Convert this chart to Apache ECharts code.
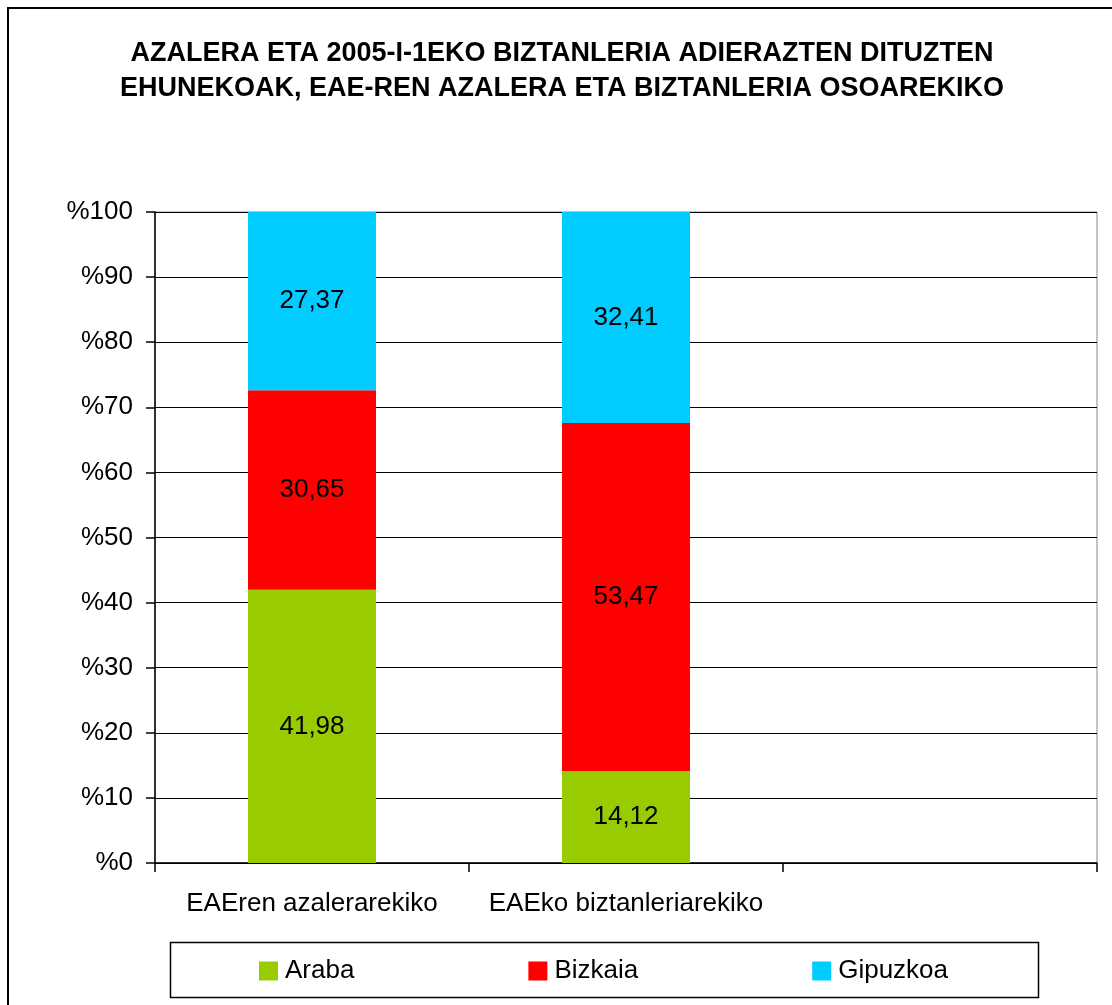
<!DOCTYPE html>
<html>
<head>
<meta charset="utf-8">
<script src="https://cdn.jsdelivr.net/npm/echarts@6/dist/echarts.min.js"></script>
<style>
  html, body { margin: 0; padding: 0; background: #fff; }
  #main { width: 1112px; height: 1005px; }
</style>
</head>
<body>
<div id="main"></div>
<script>
// datuak
var categories = ['EAEren azalerarekiko', 'EAEko biztanleriarekiko', ''];
var araba = [41.98, 14.12, null];
var bizkaia = [30.65, 53.47, null];
var gipuzkoa = [27.37, 32.41, null];
var yTicks = [0, 10, 20, 30, 40, 50, 60, 70, 80, 90, 100];

var titleText = 'AZALERA ETA 2005-I-1EKO BIZTANLERIA ADIERAZTEN DITUZTEN\nEHUNEKOAK, EAE-REN AZALERA ETA BIZTANLERIA OSOAREKIKO';

var font = 'Liberation Sans, Arial, sans-serif';

var myChart = echarts.init(document.getElementById('main'));

function comma(p) {
    return p.value.toFixed(2).replace('.', ',');
}

function barSeries(name, data, color) {
    return {
        name: name,
        type: 'bar',
        stack: 'total',
        barWidth: 128,
        data: data,
        itemStyle: { color: color },
        label: {
            show: true,
            position: 'inside',
            color: '#000',
            fontSize: 26,
            fontFamily: font,
            formatter: comma
        }
    };
}

var option = {
    animation: false,
    backgroundColor: '#fff',
    graphic: [
        {
            type: 'rect',
            shape: { x: 8, y: 8, width: 1120, height: 1020 },
            style: { fill: null, stroke: '#000', lineWidth: 2 },
            silent: true
        },
        {
            type: 'rect',
            shape: { x: 170.5, y: 942.5, width: 868, height: 55 },
            style: { fill: null, stroke: '#000', lineWidth: 1.5 },
            silent: true
        },
        // titulua
        {
            type: 'text',
            x: 562,
            y: 36,
            silent: true,
            style: {
                text: titleText,
                textAlign: 'center',
                textVerticalAlign: 'top',
                font: 'bold 27px ' + font,
                lineHeight: 35,
                fill: '#000'
            }
        }
    ],
    legend: {
        left: 259,
        top: 958,
        padding: 0,
        itemWidth: 19,
        itemHeight: 19,
        itemGap: 174,
        icon: 'rect',
        textStyle: { fontFamily: font, fontSize: 26, color: '#000', padding: [0, 0, 0, 2] },
        data: ['Araba', 'Bizkaia', 'Gipuzkoa']
    },
    grid: {
        left: 155,
        top: 212,
        right: 15,
        bottom: 142,
        show: true,
        borderColor: '#888',
        borderWidth: 1
    },
    xAxis: {
        type: 'category',
        data: categories,
        axisLine: { lineStyle: { color: '#000', width: 1.5 } },
        axisTick: { show: true, interval: 0, length: 9, lineStyle: { color: '#000', width: 1.5 } },
        axisLabel: { interval: 0, hideOverlap: false, color: '#000', fontSize: 26, fontFamily: font, margin: 28 }
    },
    yAxis: {
        type: 'value',
        min: yTicks[0],
        max: yTicks[yTicks.length - 1],
        interval: 10,
        axisLine: { show: true, lineStyle: { color: '#000', width: 1.5 } },
        axisTick: { show: true, length: 9, lineStyle: { color: '#000', width: 1.5 } },
        axisLabel: {
            color: '#000',
            fontSize: 26,
            fontFamily: font,
            margin: 22,
            formatter: function (v) { return '%' + v; }
        },
        splitLine: { lineStyle: { color: '#000', width: 1 } }
    },
    series: [
        barSeries('Araba', araba, '#99CC00'),
        barSeries('Bizkaia', bizkaia, '#FF0000'),
        barSeries('Gipuzkoa', gipuzkoa, '#00CCFF')
    ]
};

myChart.setOption(option);
</script>
</body>
</html>
